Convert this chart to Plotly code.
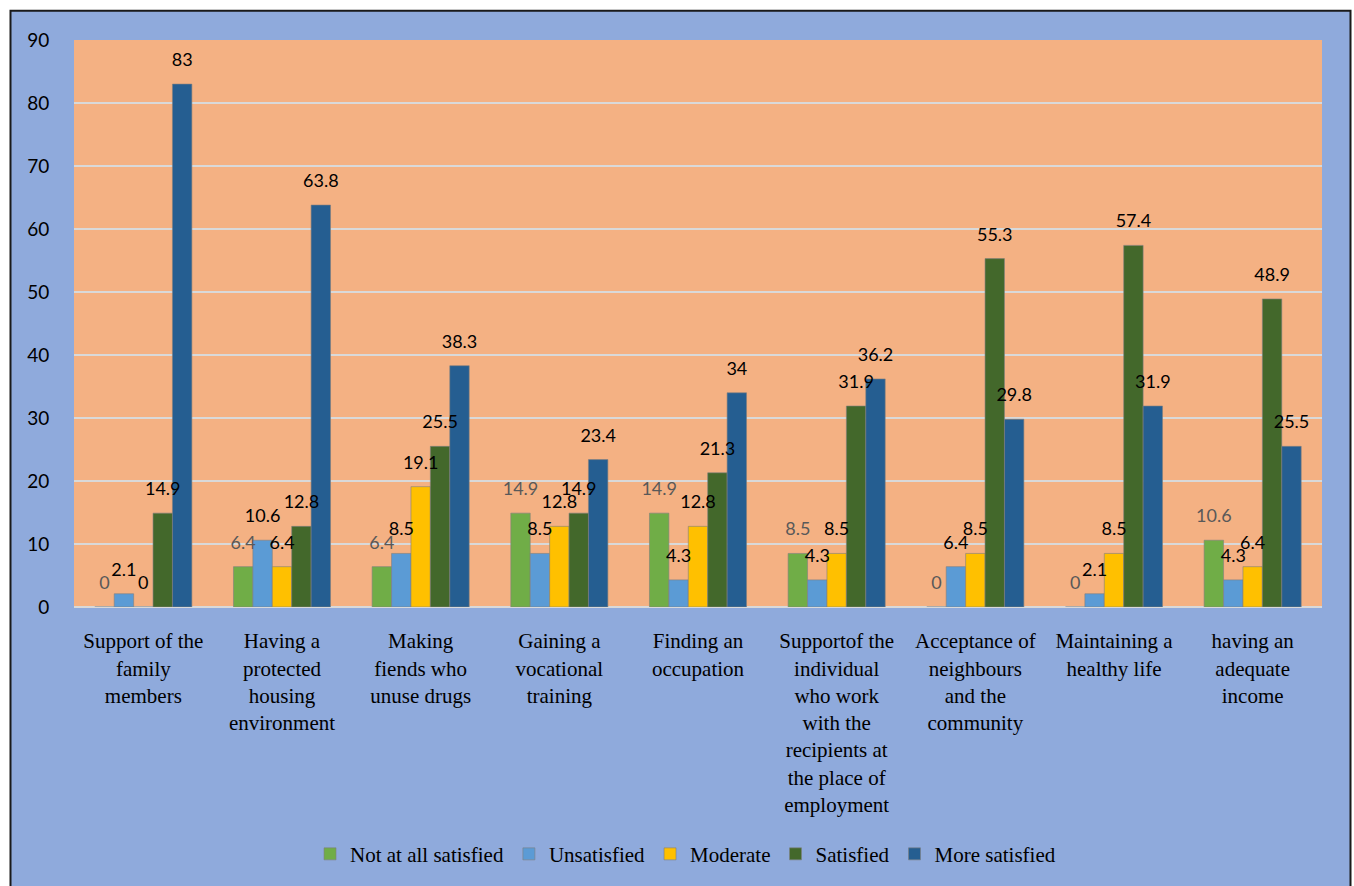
import plotly.graph_objects as go

categories = [
    "Support of the<br>family<br>members",
    "Having a<br>protected<br>housing<br>environment",
    "Making<br>fiends who<br>unuse drugs",
    "Gaining a<br>vocational<br>training",
    "Finding an<br>occupation",
    "Supportof the<br>individual<br>who work<br>with the<br>recipients at<br>the place of<br>employment",
    "Acceptance of<br>neighbours<br>and the<br>community",
    "Maintaining a<br>healthy life",
    "having an<br>adequate<br>income",
]

not_at_all = [0, 6.4, 6.4, 14.9, 14.9, 8.5, 0, 0, 10.6]
unsatisfied = [2.1, 10.6, 8.5, 8.5, 4.3, 4.3, 6.4, 2.1, 4.3]
moderate = [0, 6.4, 19.1, 12.8, 12.8, 8.5, 8.5, 8.5, 6.4]
satisfied = [14.9, 12.8, 25.5, 14.9, 21.3, 31.9, 55.3, 57.4, 48.9]
more_satisfied = [83, 63.8, 38.3, 23.4, 34, 36.2, 29.8, 31.9, 25.5]

series = [
    ("Not at all satisfied", not_at_all, "#70AD47", "#595959"),
    ("Unsatisfied", unsatisfied, "#5B9BD5", "#000000"),
    ("Moderate", moderate, "#FFC000", "#000000"),
    ("Satisfied", satisfied, "#43682B", "#000000"),
    ("More satisfied", more_satisfied, "#255E91", "#000000"),
]

W, H = 1354, 886
L, R, T, B = 74, 32, 40, 276
pw, ph = W - L - R, H - T - B


def px_x(p):
    return (p - L) / pw


def px_y(p):
    return (H - B - p) / ph


fig = go.Figure()

# the bars themselves
for i, (name, vals, color, tcolor) in enumerate(series):
    fig.add_trace(go.Bar(
        name=name, x=categories, y=vals, offsetgroup=str(i),
        marker=dict(color=color, line=dict(color="#7F7F7F", width=0.6)),
        hoverinfo="x+y+name",
    ))

# value labels, drawn after every bar so they sit on top
for i, (name, vals, color, tcolor) in enumerate(series):
    fig.add_trace(go.Bar(
        name=name, x=categories, y=vals, offsetgroup=str(i),
        marker=dict(color="rgba(0,0,0,0)", line=dict(width=0)),
        text=[f"<span style='font-size:18px'>{v:g}</span><br> " for v in vals],
        textposition="outside",
        constraintext="none",
        textfont=dict(family="Lato, Open Sans, sans-serif", size=10, color=tcolor),
        cliponaxis=False, showlegend=False, hoverinfo="skip",
    ))

fig.update_layout(
    width=W, height=H,
    margin=dict(l=L, r=R, t=T, b=B),
    paper_bgcolor="#8FAADC",
    plot_bgcolor="#F4B183",
    barmode="group",
    bargap=0.3,
    bargroupgap=0,
    legend=dict(
        orientation="h", x=0.49, xanchor="center", y=-0.436, yanchor="middle",
        font=dict(family="Liberation Serif, Times New Roman, serif", size=21, color="#000000"),
        bgcolor="rgba(0,0,0,0)", itemwidth=30, traceorder="normal",
    ),
    xaxis=dict(
        tickfont=dict(family="Liberation Serif, Times New Roman, serif", size=21, color="#000000"),
        showline=False, ticks="outside", ticklen=15, tickcolor="rgba(0,0,0,0)", tickangle=0,
    ),
    yaxis=dict(
        range=[0, 90], dtick=10, tick0=0,
        tickfont=dict(family="Lato, Open Sans, sans-serif", size=19, color="#000000"),
        showgrid=True, gridcolor="#D9D9D9", gridwidth=2,
        zeroline=True, zerolinecolor="#D9D9D9", zerolinewidth=2,
        ticks="outside", ticklen=20, tickcolor="rgba(0,0,0,0)",
        showline=False,
    ),
    shapes=[
        # white outer strips around the chart frame
        dict(type="rect", xref="paper", yref="paper", layer="above",
             x0=px_x(-20), x1=px_x(W + 20), y0=px_y(10), y1=px_y(-20),
             fillcolor="#FFFFFF", line=dict(width=0)),
        dict(type="rect", xref="paper", yref="paper", layer="above",
             x0=px_x(-20), x1=px_x(10), y0=px_y(H + 20), y1=px_y(-20),
             fillcolor="#FFFFFF", line=dict(width=0)),
        dict(type="rect", xref="paper", yref="paper", layer="above",
             x0=px_x(1351), x1=px_x(W + 20), y0=px_y(H + 20), y1=px_y(-20),
             fillcolor="#FFFFFF", line=dict(width=0)),
        # dark frame
        dict(type="rect", xref="paper", yref="paper", layer="above",
             x0=px_x(10.5), x1=px_x(1350.5), y0=px_y(H + 20), y1=px_y(10.5),
             fillcolor="rgba(0,0,0,0)", line=dict(color="#1A1A1A", width=2)),
    ],
)

fig.write_html("out.html")
